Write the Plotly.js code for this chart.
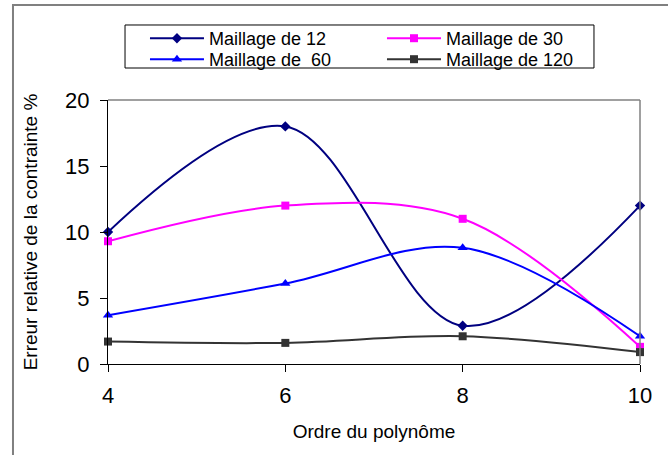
<!DOCTYPE html>
<html>
<head>
<meta charset="utf-8">
<script src="https://cdn.plot.ly/plotly-3.0.1.min.js"></script>
<style>
  html, body { margin: 0; padding: 0; background: #ffffff; }
  #chart { width: 668px; height: 455px; }
</style>
</head>
<body>
<div id="chart"></div>
<script>
// Polynomial order (x axis)
const ordres = [4, 6, 8, 10];

// Relative stress error (%) for each mesh size
const maillage12 = [10.0, 18.0, 2.9, 12.0];
const maillage30 = [9.3, 12.0, 11.0, 1.3];
const maillage60 = [3.7, 6.1, 8.8, 2.1];
const maillage120 = [1.7, 1.6, 2.1, 0.9];

const noms = ['Maillage de 12', 'Maillage de 30', 'Maillage de  60', 'Maillage de 120'];

const FONT = '"Liberation Sans", Arial, sans-serif';

function serie(nom, y, couleur, symbole, taille, legende) {
  return {
    type: 'scatter',
    mode: 'lines+markers',
    name: nom,
    legend: legende,
    x: ordres,
    y: y,
    line: { color: couleur, width: 2, shape: 'spline', smoothing: 1 },
    marker: { color: couleur, symbol: symbole, size: taille },
    cliponaxis: false
  };
}

// two legend rows, each one a horizontal legend
const traces = [
  serie(noms[0], maillage12, '#000080', 'diamond', 8, 'legend'),
  serie(noms[1], maillage30, '#ff00ff', 'square', 8, 'legend'),
  serie(noms[2], maillage60, '#0000ff', 'triangle-up', 9, 'legend2'),
  serie(noms[3], maillage120, '#333333', 'square', 8, 'legend2')
];

function ligneLegende(yTop) {
  return {
    orientation: 'h',
    x: 0.0695, xanchor: 'left',
    y: yTop, yanchor: 'top',
    borderwidth: 0,
    bgcolor: 'rgba(0,0,0,0)',
    font: { family: FONT, size: 18, color: '#000000' },
    itemwidth: 54,
    entrywidth: 168,
    entrywidthmode: 'pixels',
    traceorder: 'normal'
  };
}

const layout = {
  width: 668,
  height: 455,
  margin: { l: 108, r: 28, t: 100, b: 91 },
  paper_bgcolor: '#ffffff',
  plot_bgcolor: '#ffffff',
  font: { family: FONT, color: '#000000' },
  showlegend: true,
  legend: ligneLegende(1.303),
  legend2: ligneLegende(1.2235),
  xaxis: {
    range: [4, 10],
    tickvals: [4, 6, 8, 10],
    ticks: 'outside',
    ticklen: 7,
    tickcolor: '#000000',
    tickfont: { family: FONT, size: 22 },
    ticklabelstandoff: 5,
    showline: true,
    linecolor: '#000000',
    linewidth: 1,
    showgrid: false,
    zeroline: false,
    title: { text: 'Ordre du polynôme', font: { family: FONT, size: 19 }, standoff: 17 }
  },
  yaxis: {
    range: [0, 20],
    dtick: 5,
    ticks: 'outside',
    ticklen: 7,
    tickcolor: '#000000',
    tickfont: { family: FONT, size: 22 },
    ticklabelstandoff: 6,
    showline: true,
    linecolor: '#000000',
    linewidth: 1,
    showgrid: false,
    zeroline: false,
    title: { text: 'Erreur relative de la contrainte %', font: { family: FONT, size: 19 }, standoff: 22 }
  },
  shapes: [
    // plot area frame, top and right edges
    { type: 'line', xref: 'paper', yref: 'paper', x0: 0, x1: 1, y0: 1, y1: 1,
      line: { color: '#808080', width: 1.5 } },
    { type: 'line', xref: 'paper', yref: 'paper', x0: 1, x1: 1, y0: 0, y1: 1,
      line: { color: '#808080', width: 1.5 } },
    // chart area frame
    { type: 'rect', xref: 'paper', yref: 'paper', x0: -0.1786, x1: 1.1, y0: -0.4, y1: 1.3598,
      line: { color: '#808080', width: 2 }, layer: 'below' },
    // legend box
    { type: 'rect', xref: 'paper', yref: 'paper', x0: 0.032, x1: 0.9135, y0: 1.1212, y1: 1.2841,
      line: { color: '#000000', width: 1 }, fillcolor: '#ffffff', layer: 'below' }
  ]
};

Plotly.newPlot('chart', traces, layout, { staticPlot: true, displayModeBar: false });
</script>
</body>
</html>
